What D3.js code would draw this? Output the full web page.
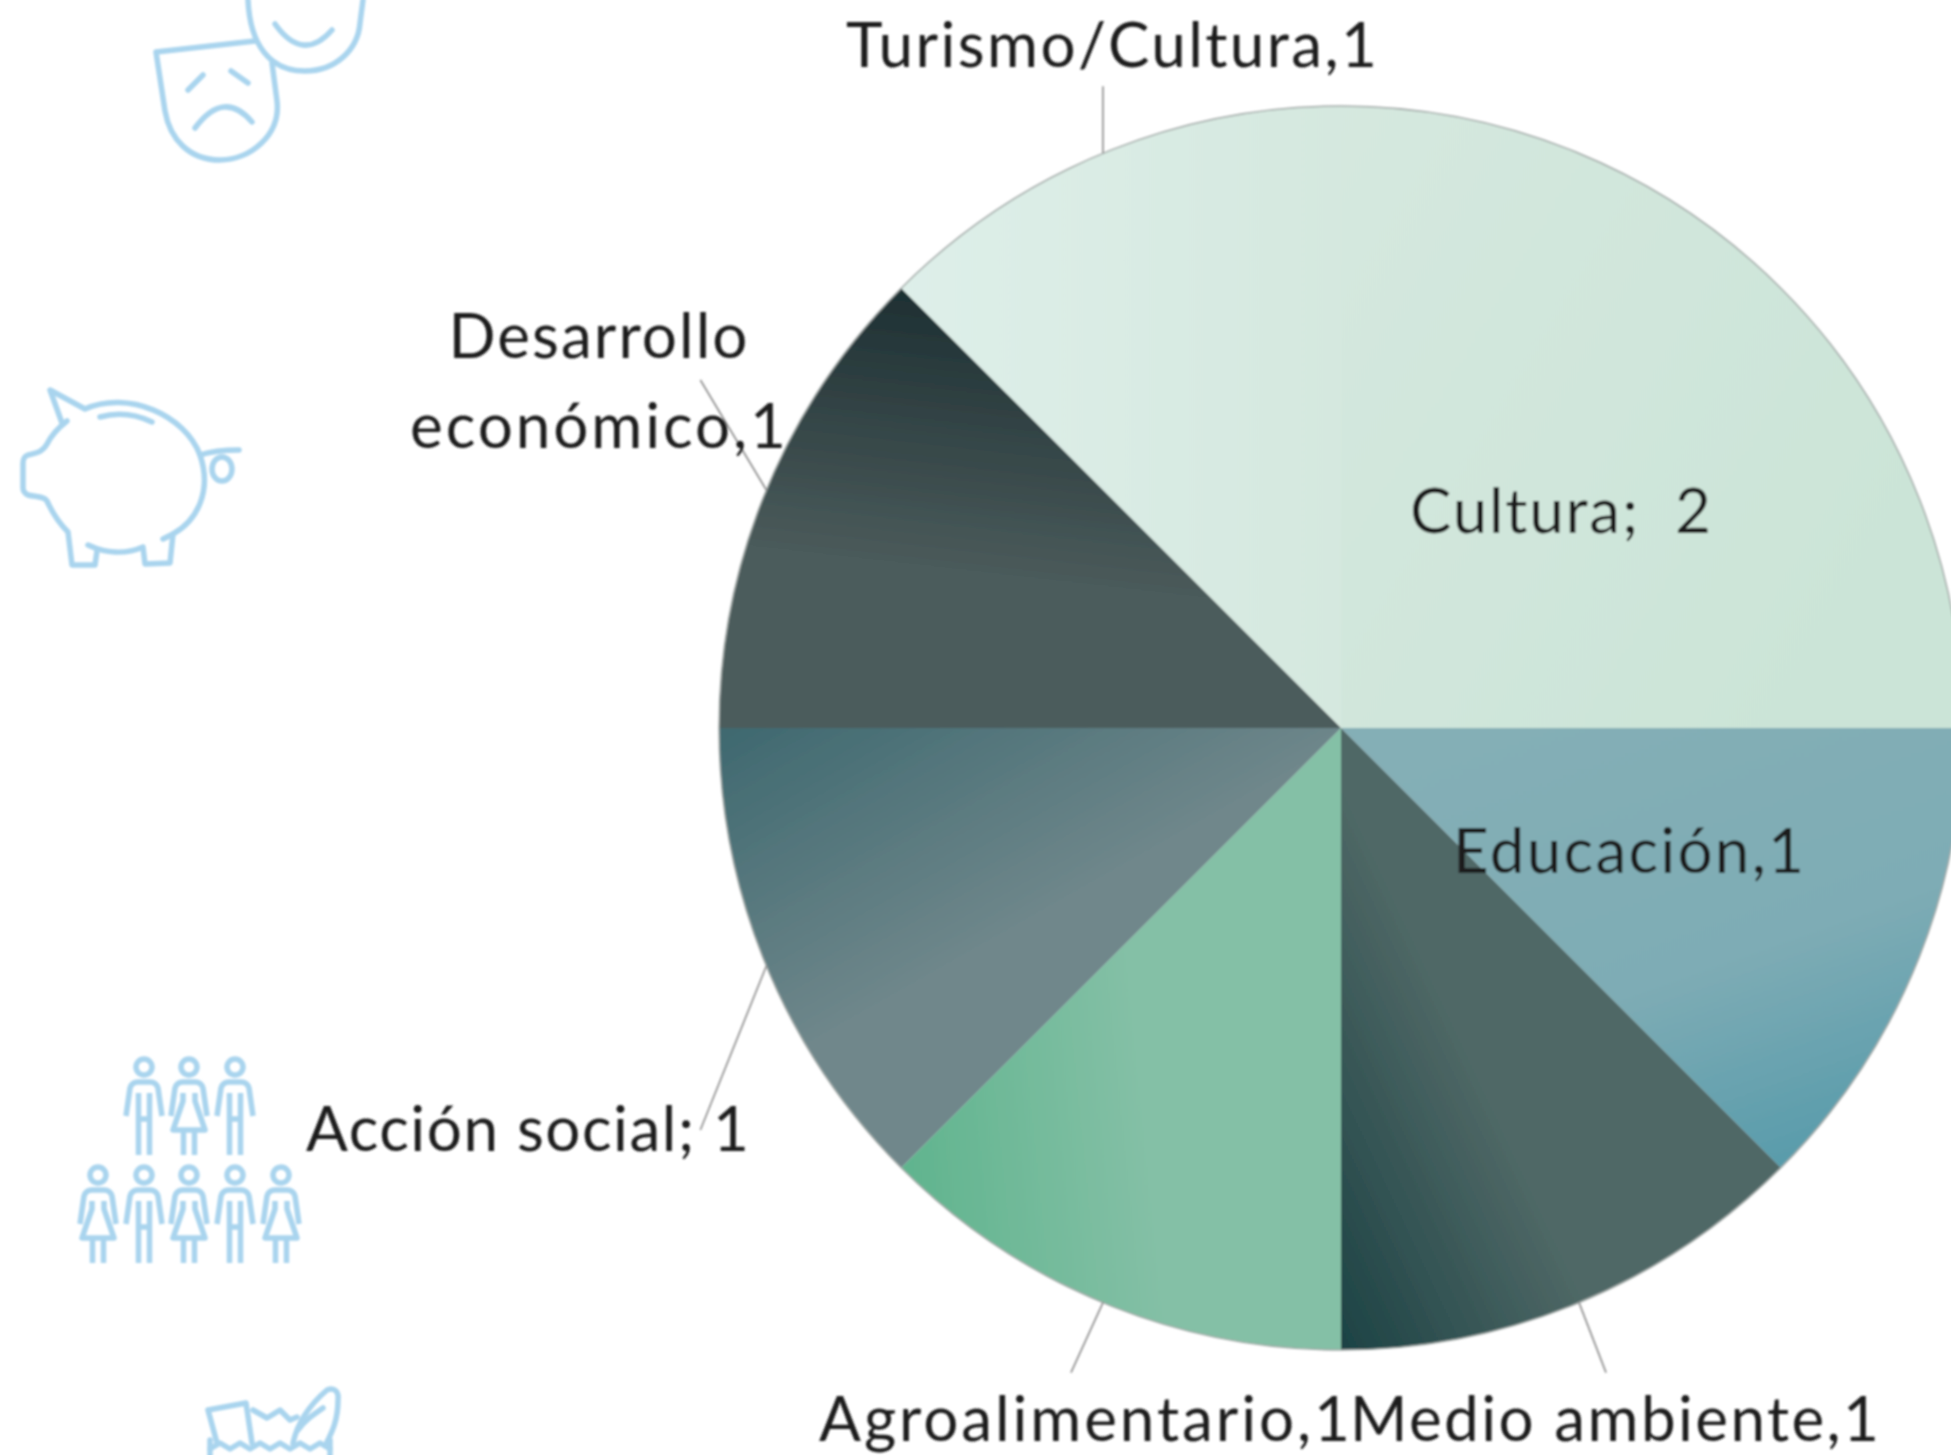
<!DOCTYPE html>
<html>
<head>
<meta charset="utf-8">
<script src="https://cdnjs.cloudflare.com/ajax/libs/d3/7.8.5/d3.min.js"></script>
<style>
html, body { margin: 0; padding: 0; background: #fff; overflow: hidden; }
svg { display: block; }
.label { font-family: Lato, "Open Sans", sans-serif; fill: #1f1f1f; white-space: pre; }
.icon path, .icon circle, .icon ellipse { fill: none; stroke: #a9d4ee; stroke-width: 5.5; stroke-linecap: round; stroke-linejoin: round; }
.leader { stroke: #8a8a8a; stroke-width: 1.6; }
</style>
</head>
<body>
<svg id="chart" width="1951" height="1455"></svg>
<script>
var categories = ["Turismo/Cultura", "Cultura", "Educación", "Medio ambiente", "Agroalimentario", "Acción social", "Desarrollo económico"];
var values = [1, 2, 1, 1, 1, 1, 1];
var separators = [",", ";  ", ",", ",", ",", "; ", ","];

// gradient per slice: x1, y1, x2, y2 (bounding box) and stops
var sliceGradients = [
  [0, 0, 1, 0, [[0, "#deefe9"], [1, "#d5e8df"]]],
  [0, 0, 1, 0.6, [[0, "#d5e8df"], [1, "#cbe4d7"]]],
  [0.3, 0, 0.8, 1, [[0, "#84afb6"], [0.55, "#7eacb5"], [1, "#559aaa"]]],
  [0, 1, 0.42, 0.72, [[0, "#1c4244"], [1, "#4f6866"]]],
  [0, 0.68, 0.55, 0.6, [[0, "#60b48e"], [1, "#84c0a6"]]],
  [0.02, 0, 0.42, 0.5, [[0, "#3f6970"], [1, "#6f878b"]]],
  [0.34, 0, 0.24, 0.62, [[0, "#1d2f32"], [1, "#4b5b5b"]]]
];

// label placement: anchor x, baseline y, text-anchor, width of the text; leader end is offset from the arc
var labelX = [846, 1410, 1453, 1350, 819, 306, 598];
var labelY = [67, 533, 873, 1441, 1441, 1151, 358];
var labelAnchor = ["start", "start", "start", "start", "start", "start", "middle"];
var labelWidth = [531, 301, 351, 529, 531, 443, 376];
var desarrolloFirstWidth = 299;
var leaderDx = [0, null, null, 27, -32, -66, -66];
var leaderDy = [-67, null, null, 70, 70, 164, -110];

var cx = 1341, cy = 728, radius = 622, fontSize = 62;

var svg = d3.select("#chart");
var defs = svg.append("defs");

defs.append("filter").attr("id", "soft")
    .attr("x", "-5%").attr("y", "-5%").attr("width", "110%").attr("height", "110%")
  .append("feGaussianBlur").attr("stdDeviation", 0.9);

var pie = d3.pie().sort(null).startAngle(-Math.PI / 4).endAngle(Math.PI * 7 / 4);
var arc = d3.arc().innerRadius(0).outerRadius(radius);
var slices = pie(values);

sliceGradients.forEach(function(g, i) {
  var grad = defs.append("linearGradient").attr("id", "slice" + i)
      .attr("x1", g[0]).attr("y1", g[1]).attr("x2", g[2]).attr("y2", g[3]);
  g[4].forEach(function(s) {
    grad.append("stop").attr("offset", s[0]).attr("stop-color", s[1]);
  });
});

var root = svg.append("g").attr("filter", "url(#soft)");

// icons on the left
var iconPaths = [
  // sad mask
  "M156,52 L255,41 M272,63 L277,101 C281,135 250,160 220,160 C190,160 170,140 165,111 L156,52",
  "M188,90 L203,75 M231,71 L248,83 M195,128 Q224,89 252,122",
  // happy mask
  "M248,0 C250,45 270,71 305,71 C335,71 358,50 360,23 L363,0",
  "M275,24 Q303,63 332,30",
  // piggy bank
  "M62,423 L50,390 L85,409 C128,390 185,415 200,455 C212,490 198,520 173,534 L170,563 L145,564 L143,547 C125,555 105,553 88,545",
  "M97,551 L95,565 L72,565 L68,532 C58,522 52,512 47,501 C44,496 35,497 28,495 C24,493 23,490 23,488 L23,463 C23,458 25,456 28,455 C35,453 42,453 47,444 C52,434 58,428 67,421",
  "M100,417 C118,412 135,414 152,422 M163,539 L173,534",
  "M200,455 C212,451 225,450 239,450",
  // shopping bag
  "M208,1410 L246,1403 L252,1443 M217,1443 L208,1410",
  "M253,1410 L267,1418 L280,1410 L290,1420 L297,1417",
  "M293,1443 C297,1425 307,1407 327,1390 C335,1387 339,1392 338,1400 C338,1420 332,1432 327,1442",
  "M298,1430 C305,1420 313,1415 323,1408",
  "M210,1440 L210,1455 M330,1440 L330,1455",
  "M210,1449 L220,1443 L230,1449 L240,1443 L250,1449 L260,1443 L270,1449 L280,1443 L290,1449 L300,1443 L310,1449 L320,1443 L330,1449"
];

var icons = root.append("g").attr("class", "icon");
icons.selectAll("path.shape").data(iconPaths).enter().append("path")
    .attr("class", "shape").attr("d", function(d) { return d; });
icons.append("ellipse").attr("cx", 222).attr("cy", 469).attr("rx", 10).attr("ry", 12);

// people pictogram
var manPath = "M-18,49 L-14,21 Q-12,15 -6,15 L6,15 Q12,15 14,21 L18,49 M-5.5,26 L-5.5,88 M5.5,26 L5.5,88 M-5.5,52 L5.5,52";
var womanPath = "M-18,49 L-14,21 Q-12,15 -6,15 L6,15 Q12,15 14,21 L18,49 M-6,26 L-6,34 L-16,63 L16,63 L6,34 L6,26 M-5.5,63 L-5.5,88 M5.5,63 L5.5,88";
var peopleX = [144, 189, 235, 98, 144, 189, 235, 281];
var peopleY = [1067, 1067, 1067, 1175, 1175, 1175, 1175, 1175];
var peopleType = ["m", "f", "m", "f", "m", "f", "m", "f"];

var person = icons.selectAll("g.person").data(peopleX).enter().append("g")
    .attr("class", "person")
    .attr("transform", function(d, i) { return "translate(" + d + "," + peopleY[i] + ")"; });
person.append("circle").attr("r", 8);
person.append("path")
    .style("stroke-linecap", "butt")
    .attr("d", function(d, i) { return peopleType[i] === "m" ? manPath : womanPath; });

// pie
var g = root.append("g").attr("transform", "translate(" + cx + "," + cy + ")");

g.selectAll("path.slice").data(slices).enter().append("path")
    .attr("class", "slice")
    .attr("d", arc)
    .attr("fill", function(d, i) { return "url(#slice" + i + ")"; });

g.append("circle").attr("r", radius)
    .attr("fill", "none").attr("stroke", "#a3aaa8").attr("stroke-width", 1.5);

// leader lines start on the arc at the middle of the slice
g.selectAll("line.leader").data(slices).enter()
  .filter(function(d, i) { return leaderDx[i] !== null; })
  .append("line")
    .attr("class", "leader")
    .attr("x1", function(d) { return radius * Math.sin((d.startAngle + d.endAngle) / 2); })
    .attr("y1", function(d) { return -radius * Math.cos((d.startAngle + d.endAngle) / 2); })
    .attr("x2", function(d) { return radius * Math.sin((d.startAngle + d.endAngle) / 2) + leaderDx[d.index]; })
    .attr("y2", function(d) { return -radius * Math.cos((d.startAngle + d.endAngle) / 2) + leaderDy[d.index]; });

// labels
categories.forEach(function(name, i) {
  var text = name + separators[i] + values[i];
  var lines = name === "Desarrollo económico" ? ["Desarrollo", "económico" + separators[i] + values[i]] : [text];
  lines.forEach(function(line, j) {
    root.append("text")
        .attr("class", "label")
        .attr("x", labelX[i])
        .attr("y", labelY[i] + j * 90)
        .attr("text-anchor", labelAnchor[i])
        .attr("font-size", fontSize)
        .attr("textLength", lines.length > 1 && j === 0 ? desarrolloFirstWidth : labelWidth[i])
        .attr("lengthAdjust", "spacing")
        .text(line);
  });
});
</script>
</body>
</html>
